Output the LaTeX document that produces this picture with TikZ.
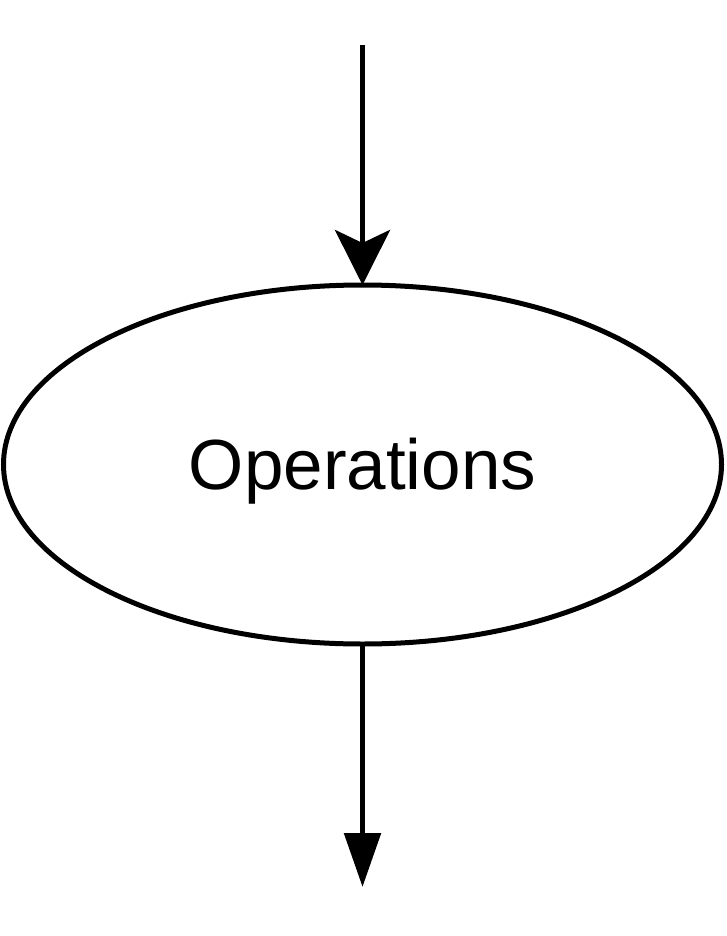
\documentclass[tikz,border=0pt]{standalone}
\usepackage{fontspec}
\setmainfont{Liberation Sans}
\usetikzlibrary{shapes.geometric,arrows.meta}
\begin{document}
\begin{tikzpicture}[x=1pt,y=-1pt,
  opshape/.style={ellipse,draw,line width=5pt,inner sep=0pt,outer sep=0pt,
    minimum width=718pt,minimum height=359pt,
    font=\fontsize{71}{85}\selectfont,text height=50.8pt,text depth=0pt},
  conn/.style={line width=5.5pt}]
\useasboundingbox (0,0) rectangle (726,936);
\node[opshape] (op) at (362.5,464.5) {Operations};
\coordinate (src) at (362.5,45);
\coordinate (dst) at (362.5,887);
\draw[conn,-{Stealth[length=55pt,width=55pt,inset=13pt]}] (src) -- (op.north);
\draw[conn,-{Triangle[length=54pt,width=36pt]}] (op.south) -- (dst);
\end{tikzpicture}
\end{document}
